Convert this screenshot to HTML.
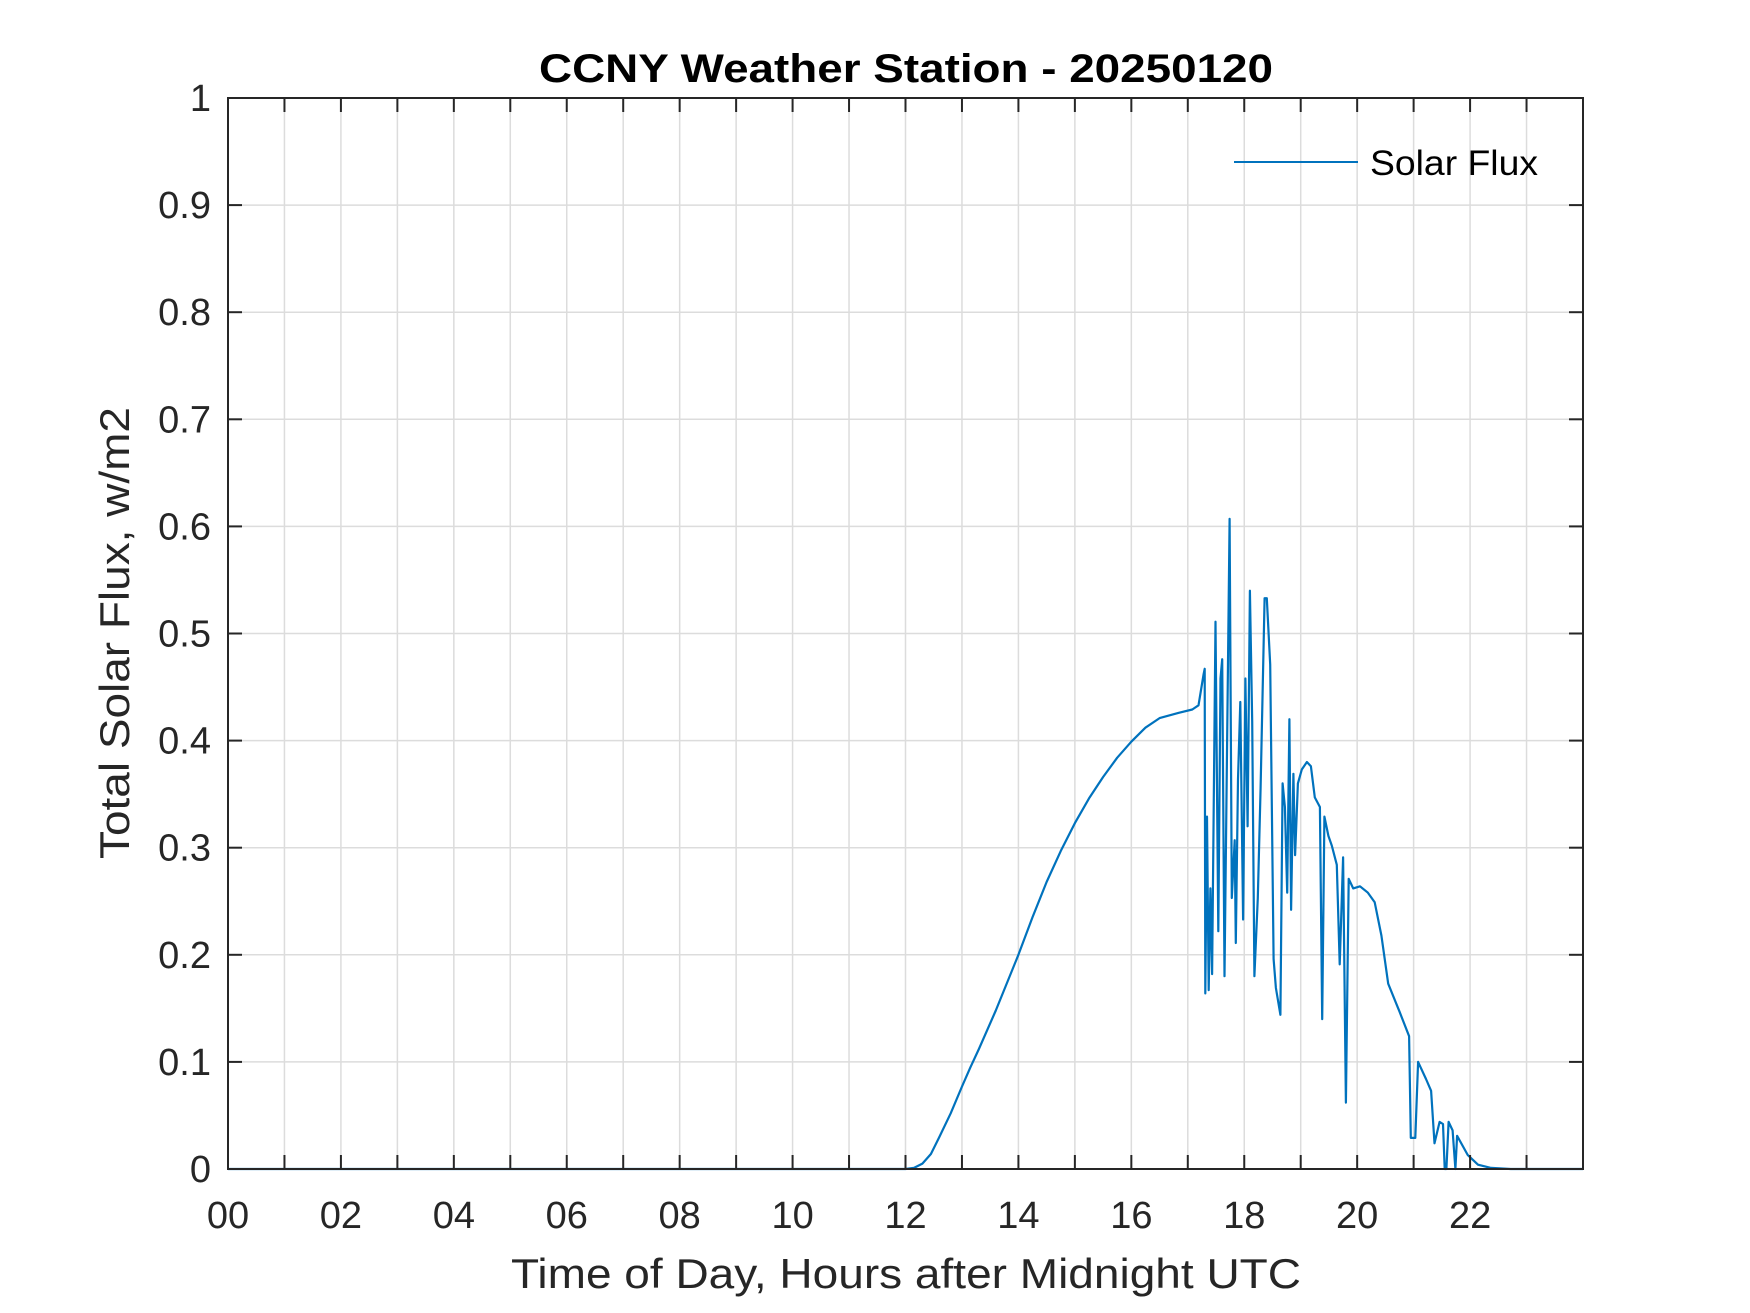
<!DOCTYPE html>
<html><head><meta charset="utf-8"><style>
html,body{margin:0;padding:0;background:#fff;}
svg{display:block;font-family:"Liberation Sans",Arial,sans-serif;}
</style></head><body>
<svg id="chart" width="1750" height="1313" viewBox="0 0 1750 1313" xmlns="http://www.w3.org/2000/svg">
<rect x="0" y="0" width="1750" height="1313" fill="#fff"/>
<g id="grid"></g>
<g id="series"></g>
<g id="axes"></g>
<text x="906" y="82" text-anchor="middle" font-size="40" font-weight="bold" textLength="734" lengthAdjust="spacingAndGlyphs" fill="#000">CCNY Weather Station - 20250120</text>
<text x="906" y="1288" text-anchor="middle" font-size="42" textLength="790" lengthAdjust="spacingAndGlyphs" fill="#262626">Time of Day, Hours after Midnight UTC</text>
<text x="0" y="0" transform="translate(129,633) rotate(-90)" text-anchor="middle" font-size="42" textLength="452" lengthAdjust="spacingAndGlyphs" fill="#262626">Total Solar Flux, w/m2</text>
<g>
<line x1="1234" y1="162" x2="1358" y2="162" stroke="#0072BD" stroke-width="2"/>
<text x="1370" y="175" font-size="35" textLength="168" lengthAdjust="spacingAndGlyphs" fill="#000">Solar Flux</text>
</g>
</svg>
<script>
const xTicks = [0,2,4,6,8,10,12,14,16,18,20,22];
const xTickLabels = ["00","02","04","06","08","10","12","14","16","18","20","22"];
const yTicks = [0,0.1,0.2,0.3,0.4,0.5,0.6,0.7,0.8,0.9,1];
const yTickLabels = ["0","0.1","0.2","0.3","0.4","0.5","0.6","0.7","0.8","0.9","1"];
const hours = [0,12.0,12.15,12.3,12.45,12.6,12.8,13.0,13.15,13.3,13.6,14.0,14.25,14.5,14.75,15.0,15.25,15.5,15.75,16.0,16.25,16.5,16.84,17.08,17.19,17.28,17.30,17.31,17.34,17.37,17.40,17.43,17.49,17.54,17.58,17.61,17.65,17.74,17.78,17.83,17.85,17.89,17.93,17.98,18.02,18.06,18.10,18.14,18.18,18.24,18.29,18.36,18.40,18.46,18.52,18.56,18.64,18.68,18.72,18.76,18.80,18.83,18.87,18.90,18.95,19.02,19.11,19.18,19.25,19.34,19.38,19.42,19.49,19.55,19.64,19.69,19.75,19.80,19.85,19.93,20.05,20.19,20.31,20.43,20.55,20.75,20.92,20.95,21.03,21.08,21.22,21.31,21.37,21.46,21.52,21.55,21.58,21.62,21.69,21.74,21.77,21.96,22.14,22.37,22.72,24];
const flux = [0,0,0.001,0.005,0.014,0.03,0.052,0.077,0.095,0.112,0.148,0.2,0.235,0.268,0.297,0.323,0.346,0.366,0.384,0.399,0.412,0.421,0.426,0.429,0.433,0.462,0.467,0.164,0.329,0.167,0.262,0.182,0.511,0.222,0.458,0.476,0.18,0.607,0.253,0.307,0.211,0.364,0.436,0.233,0.458,0.32,0.54,0.418,0.18,0.253,0.356,0.533,0.533,0.471,0.196,0.169,0.144,0.36,0.338,0.258,0.42,0.242,0.369,0.293,0.36,0.373,0.38,0.376,0.347,0.338,0.14,0.329,0.311,0.302,0.284,0.191,0.291,0.062,0.271,0.262,0.264,0.258,0.249,0.218,0.173,0.147,0.124,0.029,0.029,0.1,0.084,0.073,0.024,0.044,0.042,0,0,0.044,0.036,0,0.031,0.013,0.004,0.001,0,0];

const L=228,R=1583,T=98,B=1169;
const sx=h=>L+(h/24)*(R-L);
const sy=v=>B-(v/1)*(B-T);
const NS="http://www.w3.org/2000/svg";
function mk(tag,attrs,parent){const e=document.createElementNS(NS,tag);for(const k in attrs)e.setAttribute(k,attrs[k]);parent.appendChild(e);return e;}
const grid=document.getElementById('grid'),axes=document.getElementById('axes'),series=document.getElementById('series');
for(let h=1;h<24;h++){
  const g=mk('line',{x1:sx(h),x2:sx(h),y1:T,y2:B,stroke:'#dcdcdc','stroke-width':1.5},grid);
  
  
  const t1=mk('line',{x1:sx(h),x2:sx(h),y1:B,y2:B-14,stroke:'#262626','stroke-width':2},axes);
  
  
  const t2=mk('line',{x1:sx(h),x2:sx(h),y1:T,y2:T+14,stroke:'#262626','stroke-width':2},axes);
  
  
}
xTicks.forEach((h,i)=>{
  const t=mk('text',{x:sx(h),y:1228,'text-anchor':'middle','font-size':38,fill:'#262626'},axes);
  t.textContent=xTickLabels[i];
  
  
});
yTicks.forEach((v,i)=>{
  if(v>0&&v<1){
    const g=mk('line',{x1:L,x2:R,y1:sy(v),y2:sy(v),stroke:'#dcdcdc','stroke-width':1.5},grid);
    
    
  }
  const a=mk('line',{x1:L,x2:L+14,y1:sy(v),y2:sy(v),stroke:'#262626','stroke-width':2},axes);
  
  
  const b=mk('line',{x1:R,x2:R-14,y1:sy(v),y2:sy(v),stroke:'#262626','stroke-width':2},axes);
  
  
  const t=mk('text',{x:211,y:sy(v)+13,'text-anchor':'end','font-size':38,fill:'#262626'},axes);
  t.textContent=yTickLabels[i];
  
  
});
const box=mk('rect',{x:L,y:T,width:R-L,height:B-T,fill:'none',stroke:'#262626','stroke-width':2},axes);


const pts=hours.map((h,i)=>sx(h).toFixed(1)+','+sy(flux[i]).toFixed(1)).join(' ');
const line=mk('polyline',{points:pts,fill:'none',stroke:'#0072BD','stroke-width':2.2,'stroke-linejoin':'round'},series);


</script>
</body></html>
